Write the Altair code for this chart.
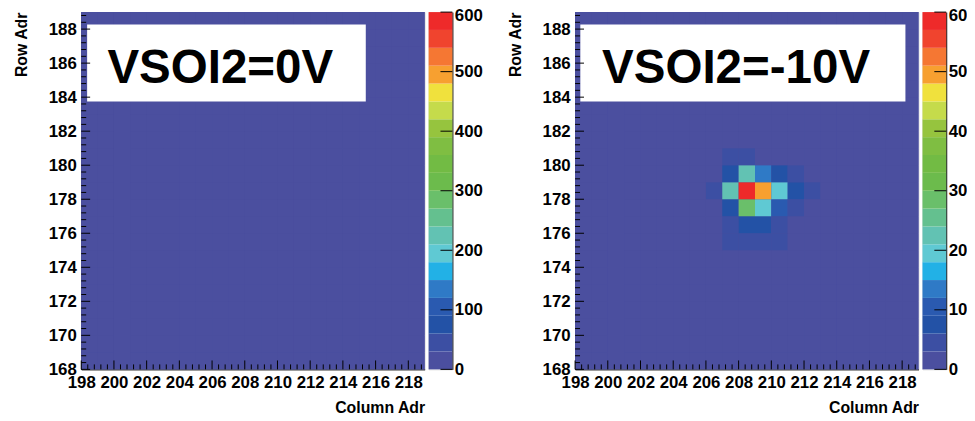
import altair as alt
import pandas as pd
import numpy as np

# ---------------- data ----------------
columns = list(range(198, 219))          # column address bins (start edges)
rows = list(range(168, 189))             # row address bins (start edges)
x_tick_labels = [198, 200, 202, 204, 206, 208, 210, 212, 214, 216, 218]
y_tick_labels = [168, 170, 172, 174, 176, 178, 180, 182, 184, 186, 188]
cbar_tick_labels = [0, 100, 200, 300, 400, 500, 600]

band_edges = [0, 30, 60, 90, 120, 150, 180, 210, 240, 270, 300,
              330, 360, 390, 420, 450, 480, 510, 540, 570, 600]
band_colors = ["#4b4f9f", "#3c4fa3", "#2352a6", "#2a5ab0", "#2f7ac6",
               "#22b1e6", "#5fc9d3", "#62c2b3", "#64c08f", "#6abf6a",
               "#6cbb4c", "#72bb44", "#7fbe42", "#96c43e", "#c5db4b",
               "#f0e13d", "#f7a030", "#f57733", "#f0442e", "#ee2a2a"]

panel_labels = ["VSOI2=0V", "VSOI2=-10V"]

# hit map, VSOI2=0V : no hits above zero
left_cols = []
left_rows = []
left_vals = []

# hit map, VSOI2=-10V
right_cols = [207, 208,
              207, 208, 209, 210, 211,
              206, 207, 208, 209, 210, 211, 212,
              207, 208, 209, 210, 211,
              207, 208, 209, 210,
              207, 208, 209, 210]
right_rows = [180, 180,
              179, 179, 179, 179, 179,
              178, 178, 178, 178, 178, 178, 178,
              177, 177, 177, 177, 177,
              176, 176, 176, 176,
              175, 175, 175, 175]
right_vals = [45, 45,
              75, 225, 135, 75, 45,
              45, 225, 585, 495, 195, 75, 45,
              75, 285, 195, 105, 45,
              45, 75, 75, 45,
              45, 45, 45, 45]

# label boxes (data units)
box_x = [198.36, 198.32]
box_x2 = [215.4, 218.2]
box_y = [183.74, 183.74]
box_y2 = [188.27, 188.27]
text_x = [199.6, 199.65]
text_y = [184.85, 184.85]

# ---------------- layout ----------------
W, H = 347, 361
CB_W = 24
FONT = "Liberation Sans"

x_scale = alt.Scale(domain=[198, 219], nice=False, zero=False)
y_scale = alt.Scale(domain=[168, 189], nice=False, zero=False)

x_axis = alt.Axis(values=x_tick_labels, ticks=False, grid=False, domain=True,
                  domainColor="black", labelFont=FONT, labelFontSize=17,
                  labelFontWeight="bold", labelColor="black", labelPadding=5,
                  labelFlush=False, labelOverlap=False, title="Column Adr",
                  titleFont=FONT, titleFontSize=16, titleFontWeight="bold",
                  titleColor="black", titleAnchor="end", titlePadding=10)
y_axis = alt.Axis(values=y_tick_labels, ticks=False, grid=False, domain=True,
                  domainColor="black", labelFont=FONT, labelFontSize=17,
                  labelFontWeight="bold", labelColor="black", labelPadding=5,
                  labelFlush=False, labelOverlap=False, title="Row Adr",
                  titleFont=FONT, titleFontSize=16, titleFontWeight="bold",
                  titleColor="black", titleAnchor="end", titlePadding=19)

color_scale = alt.Scale(type="threshold", domain=band_edges[1:-1], range=band_colors)

major_x = x_tick_labels
minor_x = [v for v in np.round(np.arange(198, 219.001, 0.4), 2).tolist()
           if abs(v - round(v)) > 1e-6 or int(round(v)) % 2 == 1]
major_y = y_tick_labels
minor_y = [v for v in np.round(np.arange(168, 189.001, 0.4), 2).tolist()
           if abs(v - round(v)) > 1e-6 or int(round(v)) % 2 == 1]


def X(field):
    return alt.X(field, type="quantitative", scale=x_scale, axis=x_axis)


def Y(field):
    return alt.Y(field, type="quantitative", scale=y_scale, axis=y_axis)


def heat_panel(i, hc, hr, hv):
    hits = {(c, r): v for c, r, v in zip(hc, hr, hv)}
    grid = pd.DataFrame([
        {"c": c, "c2": c + 1, "r": r, "r2": r + 1, "v": hits.get((c, r), 0)}
        for c in columns for r in rows
    ])
    bg = alt.Chart(pd.DataFrame({"c": [columns[0]], "c2": [columns[-1] + 1],
                                 "r": [rows[0]], "r2": [rows[-1] + 1]})
                   ).mark_rect(color=band_colors[0], strokeWidth=0).encode(
        x=X("c"), x2="c2", y=Y("r"), y2="r2")
    cells = alt.Chart(grid).mark_rect(strokeWidth=0).encode(
        x=X("c"), x2="c2", y=Y("r"), y2="r2",
        color=alt.Color("v:Q", scale=color_scale, legend=None),
    )
    box = alt.Chart(pd.DataFrame({"bx": [box_x[i]], "bx2": [box_x2[i]],
                                  "by": [box_y[i]], "by2": [box_y2[i]]})
                    ).mark_rect(color="white").encode(
        x=X("bx"), x2="bx2", y=Y("by"), y2="by2")
    label = alt.Chart(pd.DataFrame({"tx": [text_x[i]], "ty": [text_y[i]],
                                    "t": [panel_labels[i]]})
                      ).mark_text(align="left", baseline="alphabetic", font=FONT,
                                  fontSize=48, fontWeight="bold", color="black"
                                  ).encode(x=X("tx"), y=Y("ty"), text="t:N")
    xmaj = alt.Chart(pd.DataFrame({"t": major_x})).mark_rule(color="black").encode(
        x=X("t"), y=alt.value(H), y2=alt.value(H - 9))
    xmin = alt.Chart(pd.DataFrame({"t": minor_x})).mark_rule(color="black").encode(
        x=X("t"), y=alt.value(H), y2=alt.value(H - 5))
    ymaj = alt.Chart(pd.DataFrame({"t": major_y})).mark_rule(color="black").encode(
        y=Y("t"), x=alt.value(0), x2=alt.value(9))
    ymin = alt.Chart(pd.DataFrame({"t": minor_y})).mark_rule(color="black").encode(
        y=Y("t"), x=alt.value(0), x2=alt.value(5))
    return alt.layer(bg, cells, box, label, xmaj, xmin, ymaj, ymin).properties(
        width=W, height=H)


def colorbar():
    bands = pd.DataFrame({"lo": band_edges[:-1], "hi": band_edges[1:],
                          "col": band_colors})
    cb_axis = alt.Axis(orient="right", values=cbar_tick_labels, ticks=False,
                       grid=False, domain=True, domainColor="black",
                       labelFont=FONT, labelFontSize=17, labelFontWeight="bold",
                       labelColor="black", labelPadding=2, labelFlush=False,
                       labelOffset=alt.ExprRef(expr="datum.value == 600 ? 3 : 0"),
                       labelOverlap=False, title=None)
    cb_scale = alt.Scale(domain=[0, 600], nice=False, zero=False)
    rects = alt.Chart(bands).mark_rect(strokeWidth=0).encode(
        y=alt.Y("lo:Q", scale=cb_scale, axis=cb_axis), y2="hi",
        x=alt.value(0), x2=alt.value(CB_W),
        color=alt.Color("col:N", scale=None),
    )
    ticks = alt.Chart(pd.DataFrame({"v": cbar_tick_labels})).mark_rule(
        color="black").encode(
        y=alt.Y("v:Q", scale=cb_scale, axis=cb_axis),
        x=alt.value(CB_W - 12), x2=alt.value(CB_W))
    return alt.layer(rects, ticks).properties(width=CB_W, height=H)


left = alt.hconcat(heat_panel(0, left_cols, left_rows, left_vals), colorbar(),
                   spacing=2)
right = alt.hconcat(heat_panel(1, right_cols, right_rows, right_vals), colorbar(),
                    spacing=2)

chart = alt.hconcat(left, right, spacing=24).properties(
    padding={"left": 5, "top": -5, "right": -10, "bottom": -1}
).configure_view(stroke=None).configure(background="white")

chart.save("out.html", embed_options={"renderer": "svg", "actions": False})
